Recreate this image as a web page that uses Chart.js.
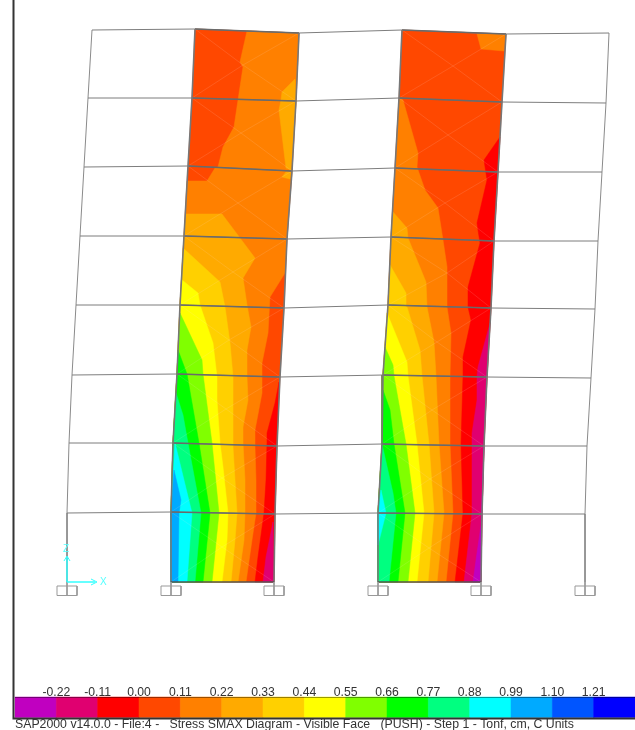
<!DOCTYPE html>
<html>
<head>
<meta charset="utf-8">
<script src="https://cdn.jsdelivr.net/npm/chart.js@4"></script>
<style>
    html, body { margin: 0; padding: 0; background: #fff; }
    canvas { display: block; }
</style>
</head>
<body>
<canvas id="chart" width="635" height="730"></canvas>
<script>
// Stress legend
const stressEdges = [-0.33, -0.22, -0.11, 0.00, 0.11, 0.22, 0.33, 0.44, 0.55, 0.66, 0.77, 0.88, 0.99, 1.10, 1.21, 1.32];
const stressTicks = [-0.22, -0.11, 0.00, 0.11, 0.22, 0.33, 0.44, 0.55, 0.66, 0.77, 0.88, 0.99, 1.10, 1.21];
const bandColors = ['#c000c0', '#e00070', '#ff0000', '#ff4800', '#ff8000', '#ffaa00', '#ffd000', '#ffff00',
    '#80ff00', '#00ff00', '#00ff80', '#00ffff', '#00aaff', '#0055ff', '#0000ff'];
const footerText = 'SAP2000 v14.0.0 - File:4 -   Stress SMAX Diagram - Visible Face   (PUSH) - Step 1 - Tonf, cm, C Units';

// Frame geometry, drawing coordinates, top storey first
const outerLeft = [[92, 30], [88, 98], [84, 167], [80, 236], [76, 305], [72, 375], [69, 443], [67, 513], [67, 582]];
const outerRight = [[609, 33], [606, 103], [602, 172], [598, 241], [595, 309], [591, 378], [587, 446], [585, 514], [585, 582]];
const pier1Left = [[195, 29], [192, 98], [188, 166], [184, 236], [180, 305], [177, 374], [173, 443], [171, 512], [171, 582]];
const pier1Right = [[299, 33], [296, 101], [292, 171], [287, 239], [284, 308], [280, 377], [277, 446], [275, 514], [274, 582]];
const pier2Left = [[402, 30], [399, 98], [395, 168], [391, 237], [388, 305], [383, 375], [382, 444], [378, 513], [378, 582]];
const pier2Right = [[506, 34], [502, 102], [498, 172], [494, 241], [491, 308], [487, 377], [484, 446], [482, 514], [481, 582]];
const supportX = [67, 171, 274, 378, 481, 585];

// Mesh centre of each wall panel
const pier1Mesh = [[243, 65], [241, 133], [238, 203], [233, 272], [229, 340], [226, 409], [222, 478], [222, 547]];
const pier2Mesh = [[453, 66], [448, 135], [445, 203], [447, 273], [437, 342], [432, 410], [430, 479], [429, 548]];

// Pier 1 contour lines, base upward
const p1Crimson = [[263, 582], [266, 557], [273, 522]];
const p1Red = [[255, 582], [258, 557], [264, 513], [266, 480], [267, 443], [267, 433], [275, 403], [279, 382]];
const p1Orange = [[246, 582], [252, 540], [256, 513], [256, 480], [255, 447], [255, 430], [262, 393], [262, 363], [268, 333], [270, 297],
    [285, 273], [287, 239], [292, 171], [296, 101], [299, 33], [247, 31], [240, 62], [243, 67], [238, 100], [234, 127], [223, 147], [218, 167], [215, 168], [207, 181], [187, 181]];
const p1Amber = [[238, 582], [244, 540], [245, 513], [245, 480], [243, 443], [243, 427], [248, 400], [247, 377], [247, 350], [251, 327], [247, 305],
    [243, 278], [255, 258], [240, 238], [222, 214], [186, 214]];
const p1AmberPatchA = [[295, 79], [282, 92], [281, 100], [279, 110], [286, 168], [291, 170], [296, 101]];
const p1AmberPatchB = [[282, 177], [290, 179], [291, 172], [286, 172]];
const p1Gold = [[231, 582], [235, 540], [237, 513], [235, 480], [233, 447], [233, 410], [233, 377], [230, 343], [225, 307], [220, 282], [183, 248]];
const p1Yellow = [[222, 582], [227, 540], [228, 513], [223, 467], [220, 443], [217, 400], [217, 377], [213, 343], [200, 305], [198, 293], [182, 280]];
const p1Lime = [[212, 582], [219, 513], [212, 443], [203, 374], [202, 360], [180, 313]];
const p1Green = [[203, 582], [210, 513], [199, 443], [187, 374], [178, 350]];
const p1Spring = [[195, 582], [201, 513], [188, 443], [183, 415], [176, 393]];
const p1Cyan = [[187, 582], [192, 513], [175, 443]];
const p1Sky = [[178, 582], [179, 513], [181, 500], [174, 470]];

// Pier 2 contour lines, base upward
const p2Purple = [[473, 582], [476, 560], [481, 525], [484, 446]];
const p2Crimson = [[464, 582], [472, 513], [472, 444], [472, 433], [477, 400], [477, 376], [478, 367], [490, 323]];
const p2Red = [[455, 582], [463, 513], [461, 444], [463, 376], [463, 357], [471, 320], [468, 307], [468, 287], [480, 243], [478, 230], [477, 223],
    [487, 180], [484, 160], [500, 137]];
const p2Orange = [[446, 582], [453, 513], [450, 444], [450, 376], [451, 333], [447, 307], [447, 267], [443, 240], [438, 208], [425, 190], [417, 167], [418, 153], [403, 100], [399, 98]];
const p2OrangePatch = [[477, 34], [481, 49], [504, 51], [506, 34]];
const p2Amber = [[437, 582], [444, 513], [439, 444], [436, 376], [434, 342], [427, 307], [426, 282], [408, 238], [407, 228], [393, 212]];
const p2Gold = [[428, 582], [434, 513], [429, 444], [422, 376], [420, 350], [407, 307], [406, 293], [390, 265]];
const p2Yellow = [[417, 582], [424, 513], [417, 444], [408, 376], [407, 362], [387, 313]];
const p2Lime = [[408, 582], [415, 513], [406, 444], [394, 376], [393, 365], [385, 347]];
const p2Green = [[398, 582], [405, 513], [394, 444], [390, 410], [383, 390]];
const p2Spring = [[389, 582], [396, 513], [393, 493], [382, 444]];
const p2Cyan = [[378, 545], [386, 513], [381, 490]];

const color = value => bandColors[stressEdges.indexOf(value)];

// Closes a contour line along the wall it starts and ends on
function closeOn(line, wall) {
    const top = Math.min(line[0][1], line[line.length - 1][1]);
    const bottom = Math.max(line[0][1], line[line.length - 1][1]);
    return line.concat(wall.filter(p => p[1] > top && p[1] <= bottom));
}

const toPoints = pts => pts.map(p => ({ x: p[0], y: p[1] }));

function polygon(pts, fillColor) {
    const closed = pts.concat([pts[0]]);
    return {
        data: toPoints(closed), showLine: true, pointRadius: 0, tension: 0,
        fill: 'shape', backgroundColor: fillColor, borderColor: fillColor, borderWidth: 0.5
    };
}

function stroke(pts, lineColor, width) {
    return {
        data: toPoints(pts), showLine: true, pointRadius: 0, tension: 0,
        fill: false, borderColor: lineColor, borderWidth: width
    };
}

const pier1Layers = [
    polygon(pier1Left.concat(pier1Right.slice().reverse()), color(0.00)),
    polygon(closeOn(p1Red, pier1Right), color(-0.11)),
    polygon(closeOn(p1Crimson, pier1Right), color(-0.22)),
    polygon(closeOn(p1Orange, pier1Left), color(0.11)),
    polygon(closeOn(p1Amber, pier1Left), color(0.22)),
    polygon(p1AmberPatchA, color(0.22)),
    polygon(p1AmberPatchB, color(0.22)),
    polygon(closeOn(p1Gold, pier1Left), color(0.33)),
    polygon(closeOn(p1Yellow, pier1Left), color(0.44)),
    polygon(closeOn(p1Lime, pier1Left), color(0.55)),
    polygon(closeOn(p1Green, pier1Left), color(0.66)),
    polygon(closeOn(p1Spring, pier1Left), color(0.77)),
    polygon(closeOn(p1Cyan, pier1Left), color(0.88)),
    polygon(closeOn(p1Sky, pier1Left), color(0.99))
];

const pier2Layers = [
    polygon(pier2Left.concat(pier2Right.slice().reverse()), color(0.00)),
    polygon(closeOn(p2Red, pier2Right), color(-0.11)),
    polygon(closeOn(p2Crimson, pier2Right), color(-0.22)),
    polygon(closeOn(p2Purple, pier2Right), color(-0.33)),
    polygon(p2OrangePatch, color(0.11)),
    polygon(closeOn(p2Orange, pier2Left), color(0.11)),
    polygon(closeOn(p2Amber, pier2Left), color(0.22)),
    polygon(closeOn(p2Gold, pier2Left), color(0.33)),
    polygon(closeOn(p2Yellow, pier2Left), color(0.44)),
    polygon(closeOn(p2Lime, pier2Left), color(0.55)),
    polygon(closeOn(p2Green, pier2Left), color(0.66)),
    polygon(closeOn(p2Spring, pier2Left), color(0.77)),
    polygon(closeOn(p2Cyan, pier2Left), color(0.88))
];

// Faint element edges showing through the contours
function meshLines(centres, left, right) {
    const lines = [];
    centres.forEach((c, i) => {
        [left[i], right[i], left[i + 1], right[i + 1]].forEach(corner => {
            lines.push(stroke([c, corner], 'rgba(255, 225, 225, 0.13)', 1));
        });
    });
    return lines;
}

function frameLines() {
    const lines = [];
    [outerLeft, outerRight].forEach(col => lines.push(stroke(col, '#8a8a8a', 1)));
    outerLeft.slice(0, 8).forEach((p, i) => {
        lines.push(stroke([p, pier1Left[i], pier1Right[i], pier2Left[i], pier2Right[i], outerRight[i]], '#7d7d7d', 1));
        lines.push(stroke([pier1Left[i], pier1Right[i]], '#6a6a6a', 1.6));
        lines.push(stroke([pier2Left[i], pier2Right[i]], '#6a6a6a', 1.6));
    });
    [pier1Left, pier1Right, pier2Left, pier2Right].forEach(col => lines.push(stroke(col, '#777777', 1.6)));
    lines.push(stroke([pier1Left[8], pier1Right[8]], '#555555', 1.6));
    lines.push(stroke([pier2Left[8], pier2Right[8]], '#555555', 1.6));
    supportX.forEach(x => {
        lines.push(stroke([[x - 10, 586], [x + 10, 586], [x + 10, 595.5], [x - 10, 595.5], [x - 10, 586]], '#999999', 1));
        lines.push(stroke([[x, 582], [x, 595.5]], '#999999', 1));
    });
    return lines;
}

const axisTriad = [
    stroke([[67, 582], [67, 557]], '#33ffff', 1.5),
    stroke([[64, 561], [67, 556], [70, 561]], '#33ffff', 1),
    stroke([[67, 582], [95, 582]], '#33ffff', 1.5),
    stroke([[91, 579], [97, 582], [91, 585]], '#33ffff', 1)
];

// One band of the colour bar per stress interval, on the stress axis
const legendBands = bandColors.map((c, i) => {
    const band = polygon([[stressEdges[i], 697], [stressEdges[i + 1], 697], [stressEdges[i + 1], 717.5], [stressEdges[i], 717.5]], c);
    band.xAxisID = 'stress';
    return band;
});

const windowEdges = [
    stroke([[13.5, 0], [13.5, 718.5], [635, 718.5]], '#333333', 2),
    stroke([[15, 697.5], [635, 697.5]], 'rgba(0, 0, 0, 0.4)', 1)
];

const paintOrder = [].concat(
    pier1Layers, pier2Layers,
    meshLines(pier1Mesh, pier1Left, pier1Right), meshLines(pier2Mesh, pier2Left, pier2Right),
    frameLines(), axisTriad, legendBands, windowEdges
);

// Text that has no axis of its own
const notesPlugin = {
    id: 'notes',
    afterDraw(chart) {
        const { ctx, scales } = chart;
        ctx.save();
        ctx.textBaseline = 'middle';
        ctx.fillStyle = '#333333';
        ctx.font = '12.3px "Liberation Sans"';
        ctx.fillText(footerText, scales.x.getPixelForValue(15), scales.y.getPixelForValue(725));
        ctx.fillStyle = '#55ffff';
        ctx.font = '10px "Liberation Sans"';
        ctx.fillText('Z', scales.x.getPixelForValue(63), scales.y.getPixelForValue(549));
        ctx.fillText('X', scales.x.getPixelForValue(100), scales.y.getPixelForValue(582));
        ctx.restore();
    }
};

new Chart(document.getElementById('chart').getContext('2d'), {
    type: 'scatter',
    // Chart.js paints the first dataset last
    data: { datasets: paintOrder.slice().reverse() },
    plugins: [notesPlugin],
    options: {
        responsive: false,
        animation: false,
        layout: { padding: 0 },
        plugins: { legend: { display: false }, tooltip: { enabled: false }, title: { display: false } },
        scales: {
            x: { type: 'linear', min: 0, max: 635, display: false },
            y: { type: 'linear', min: 0, max: 730, reverse: true, display: false },
            stress: {
                type: 'linear',
                axis: 'x',
                // -0.33 falls at the left end of the bar, 15px in from the canvas edge
                min: -0.33 - 15 * (1.65 / 620),
                max: 1.32,
                position: { y: 685.5 },
                grid: { display: false, drawTicks: false },
                border: { display: false },
                afterBuildTicks: scale => { scale.ticks = stressTicks.map(v => ({ value: v })); },
                ticks: {
                    autoSkip: false,
                    maxRotation: 0,
                    padding: 0,
                    color: '#333333',
                    font: { family: '"Liberation Sans"', size: 12.2 },
                    callback: v => v.toFixed(2)
                }
            }
        }
    }
});
</script>
</body>
</html>
